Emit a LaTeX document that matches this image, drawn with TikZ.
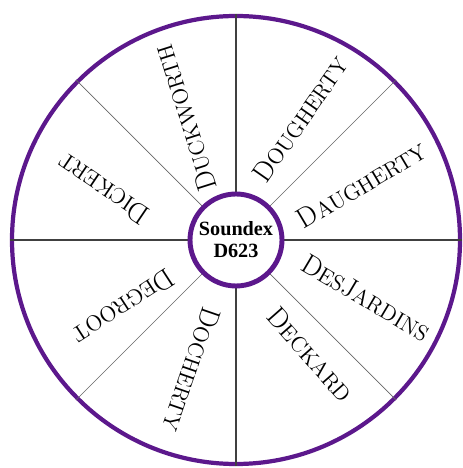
\documentclass[tikz,border=0pt]{standalone}
\usepackage{fontspec}
\newfontfamily\hubfont{Liberation Serif}
\definecolor{wheelpurple}{RGB}{92,24,140}
\newcommand\lowcap[1]{{\fontsize{12.5}{14}\selectfont #1}}

\begin{document}
\begin{tikzpicture}[font=\small,
  rim/.style={circle, draw=wheelpurple, line width=2.4pt, minimum size=8.96cm, inner sep=0pt},
  hub/.style={circle, draw=wheelpurple, line width=2.8pt, minimum size=1.84cm, fill=white,
    inner sep=0pt, align=center, font=\hubfont\bfseries\fontsize{11.5}{12.5}\selectfont},
  surname/.style={font=\fontsize{16}{18}\selectfont, inner sep=0pt}]
  \useasboundingbox (-4.72,-4.56) rectangle (4.52,4.80);
  % Wheel
  \node[rim] (rim) at (0,0) {};
  \foreach \a in {0,90,180,270}
    \draw[line width=0.7pt, draw=black!75] (rim.\a) -- (0,0);
  \foreach \a in {45,135,225,315}
    \draw[line width=0.4pt, draw=black!60] (rim.\a) -- (0,0);
  \node[hub] (hub) at (0,0) {Soundex\\D623};
  % Names
  \foreach \who/\txt/\pos/\r/\rot in {
    daugherty/D\lowcap{AUGHERTY}/23.7/2.74/30.7,
    dougherty/D\lowcap{OUGHERTY}/62/2.74/55,
    duckworth/D\lowcap{UCKWORTH}/112.7/2.64/107.6,
    dickert/D\lowcap{ICKERT}/159/2.84/146,
    degroot/D\lowcap{EGROOT}/210.7/2.62/213,
    docherty/D\lowcap{OCHERTY}/251/2.74/251,
    deckard/D\lowcap{ECKARD}/303/2.74/311.4,
    desjardins/D\lowcap{ES}J\lowcap{ARDINS}/336/2.84/329.3}{
    \node[surname, rotate=\rot] (n-\who) at (\pos:\r) {\txt};
  }
\end{tikzpicture}
\end{document}
